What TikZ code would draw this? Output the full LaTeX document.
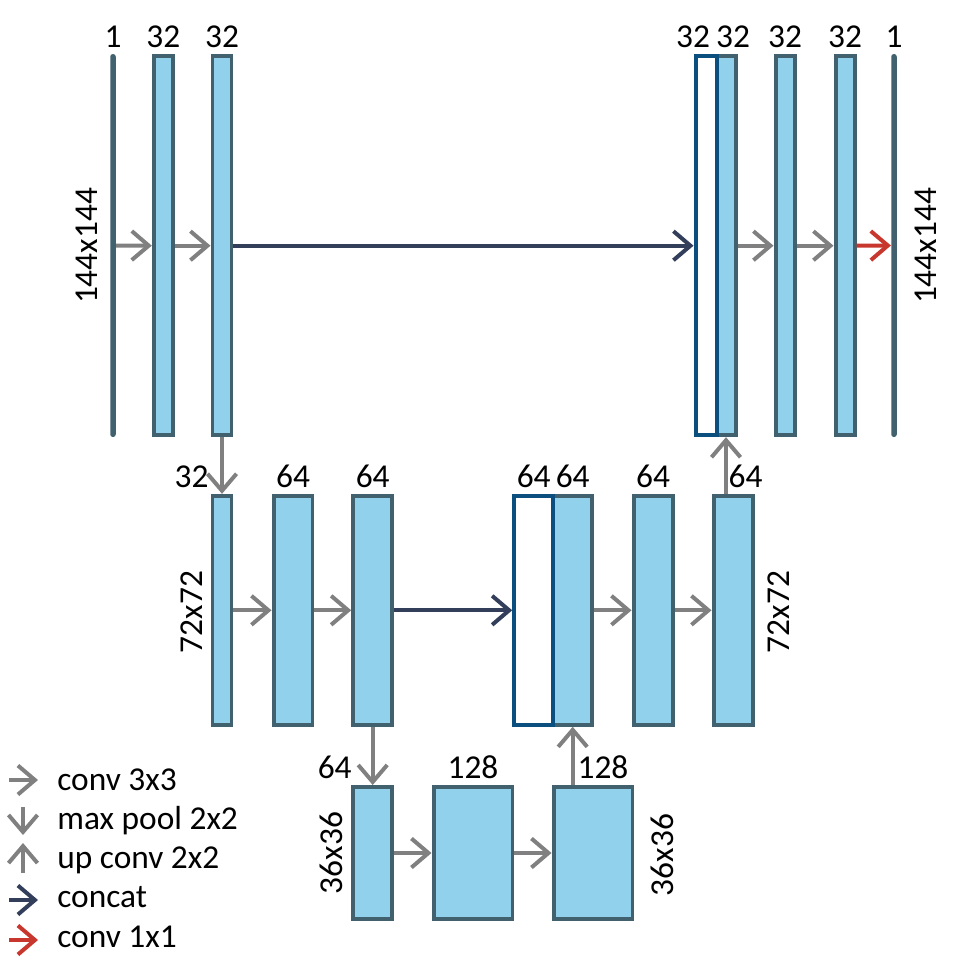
\documentclass[tikz,border=0pt]{standalone}
\usepackage{fontspec}
\setmainfont{Carlito}
\usetikzlibrary{arrows.meta,positioning,calc}
\definecolor{boxfill}{HTML}{92D1EC}
\definecolor{boxedge}{HTML}{41616F}
\definecolor{catedge}{HTML}{0B4F7E}
\definecolor{convgray}{HTML}{808080}
\definecolor{catnavy}{HTML}{323E5A}
\definecolor{outred}{HTML}{C8372D}
\tikzset{
    tip/.style={-{Straight Barb[length=0.34cm,width=0.58cm]}},
    layer/.style={draw=boxedge, fill=boxfill, line width=2.27pt, inner sep=0pt, minimum width=0.38cm},
    catlayer/.style={draw=catedge, fill=white, line width=2.27pt, inner sep=0pt, minimum width=0.42cm},
    chan/.style={fill=boxedge, inner sep=0pt, minimum width=0.11cm, minimum height=7.66cm, rounded corners=0.05cm},
    lvltop/.style={minimum height=7.58cm},
    lvlmid/.style={minimum height=4.58cm},
    lvlbot/.style={minimum height=2.64cm},
    conv/.style={draw=convgray, line width=2.27pt, tip},
    concat/.style={draw=catnavy, line width=2.27pt, tip},
    convone/.style={draw=outred, line width=2.27pt, tip},
    legend/.style={anchor=base west, inner sep=0pt}
}
\begin{document}
\begin{tikzpicture}[x=0.02cm, y=-0.02cm, font=\fontsize{19}{22}\selectfont]
    \useasboundingbox (0,0) rectangle (973,971);
    % First level 144x144
    \node[chan, label=above:1] (tin) at (113,245.5) {};
    \node[layer, lvltop, label=above:32] (t1) at (163.3,245.7) {};
    \node[layer, lvltop, label=above:32] (t2) at (222,245.7) {};
    \node[layer, lvltop, label={[xshift=0.14cm]above:32}] (tcatb) at (726,245.7) {};
    \node[catlayer, lvltop, left=-2.27pt of tcatb, label={[xshift=-0.26cm]above:32}] (tcatw) {};
    \node[layer, lvltop, label=above:32] (t3) at (785,245.7) {};
    \node[layer, lvltop, label=above:32] (t4) at (845,245.7) {};
    \node[chan, label=above:1] (tout) at (894,245.5) {};
    \draw[conv] (tin) -- (t1);
    \draw[conv] (t1) -- (t2);
    \draw[concat] (t2) -- (tcatw);
    \draw[conv] (tcatb) -- (t3);
    \draw[conv] (t3) -- (t4);
    \draw[convone] (t4) -- (tout);
    \node[rotate=90] (dimtl) at (87,246) {144x144};
    \node[rotate=90] (dimtr) at (926,246) {144x144};
    % Second level 72x72
    \node[layer, lvlmid, label={[xshift=-0.61cm]above:32}] (m1) at (222,610.3) {};
    \node[layer, lvlmid, minimum width=0.78cm, label=above:64] (m2) at (293,610.3) {};
    \node[layer, lvlmid, minimum width=0.78cm, label=above:64] (m3) at (372.7,610.3) {};
    \node[layer, lvlmid, minimum width=0.78cm, label=above:64] (mcatb) at (572.7,610.3) {};
    \node[catlayer, lvlmid, minimum width=0.78cm, left=-2.27pt of mcatb, label=above:64] (mcatw) {};
    \node[layer, lvlmid, minimum width=0.78cm, label=above:64] (m4) at (653,610.3) {};
    \node[layer, lvlmid, minimum width=0.78cm, label={[xshift=0.25cm]above:64}] (m5) at (733,610.3) {};
    \draw[conv] (m1) -- (m2);
    \draw[conv] (m2) -- (m3);
    \draw[concat] (m3) -- (mcatw);
    \draw[conv] (mcatb) -- (m4);
    \draw[conv] (m4) -- (m5);
    \node[rotate=90] (dimml) at (192,612) {72x72};
    \node[rotate=90] (dimmr) at (779,612) {72x72};
    % Third level 36x36
    \node[layer, lvlbot, minimum width=0.78cm, label={[xshift=-0.76cm]above:64}] (b1) at (372.7,853) {};
    \node[layer, lvlbot, minimum width=1.58cm, label=above:128] (b2) at (473,853) {};
    \node[layer, lvlbot, minimum width=1.58cm, label={[xshift=0.2cm]above:128}] (b3) at (593,853) {};
    \draw[conv] (b1) -- (b2);
    \draw[conv] (b2) -- (b3);
    \node[rotate=90] (dimbl) at (331,853) {36x36};
    \node[rotate=90] (dimbr) at (662,855) {36x36};
    % Pooling and up convolutions
    \draw[conv] (t2) -- (m1);
    \draw[conv] (m3) -- (b1);
    \draw[conv] (b3.north -| mcatb.south) -- (mcatb.south);
    \draw[conv] (m5.north -| tcatb.south) -- (tcatb.south);
    % Legend
    \node[legend] (lconv) at (57,790) {conv 3x3};
    \node[legend] (lpool) at (57,829) {max pool 2x2};
    \node[legend] (lup) at (57,868) {up conv 2x2};
    \node[legend] (lcat) at (57,907) {concat};
    \node[legend] (lone) at (57,947) {conv 1x1};
    \draw[conv] ($(lconv.base west)+(-48,-10)$) -- ++(29,0);
    \draw[conv] ($(lpool.base west)+(-34,-22)$) -- ++(0,28);
    \draw[conv] ($(lup.base west)+(-34,5)$) -- ++(0,-30);
    \draw[concat] ($(lcat.base west)+(-48,-7)$) -- ++(29,0);
    \draw[convone] ($(lone.base west)+(-48,-7)$) -- ++(29,0);
\end{tikzpicture}
\end{document}
